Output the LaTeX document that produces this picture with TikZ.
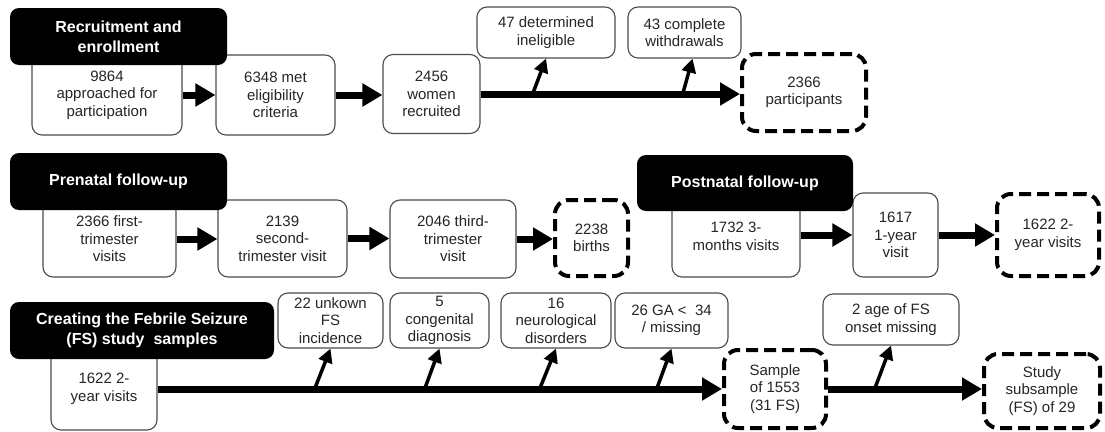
\documentclass[tikz,border=0pt]{standalone}
\usepackage{fontspec}
\setmainfont{Liberation Sans}
\usetikzlibrary{arrows.meta}
\tikzset{
  box/.style={draw=black!70, line width=1.1pt, rounded corners=10pt, fill=white, align=center,
    inner sep=0pt, text=black!85, font=\fontsize{15}{17.5}\selectfont},
  dbox/.style={box, draw=black, line width=4pt, dash pattern=on 12pt off 6pt, rounded corners=14pt},
  hdr/.style={fill=black, rounded corners=9pt, align=center, inner sep=0pt, text=white,
    font=\fontsize{16}{20}\selectfont\bfseries},
  bigarrow/.style={line width=7pt, -{Triangle[length=20pt,width=22pt]}},
  smallarrow/.style={line width=3.5pt, -{Triangle[length=14pt,width=14pt]}},
}
\begin{document}
\begin{tikzpicture}[x=1pt,y=-1pt]
\useasboundingbox (0,0) rectangle (1105,431);
% ---------- Row 1
\node[box, minimum width=150pt, minimum height=80pt] (b11) at (107,95) {9864\\approached for\\participation};
\node[box, minimum width=119pt, minimum height=80pt] (b12) at (275.5,95) {6348 met\\eligibility\\criteria};
\node[box, minimum width=97pt, minimum height=79pt] (b13) at (431.5,94) {2456\\women\\recruited};
\node[box, minimum width=138pt, minimum height=51pt] (e11) at (546,32.5) {47 determined\\ineligible};
\node[box, minimum width=113pt, minimum height=51pt] (e12) at (684.5,32.5) {43 complete\\withdrawals};
\node[dbox, minimum width=124pt, minimum height=77pt] (d1) at (804,92.5) {2366\\participants};
\node[hdr, minimum width=217pt, minimum height=57pt] (h1) at (118.5,36.5) {Recruitment and\\enrollment};
\draw[bigarrow] (b11.east) -- (b11.east -| b12.west);
\draw[bigarrow] (b12.east) -- (b12.east -| b13.west);
\coordinate (s11) at (533,93);
\coordinate (s12) at (683,93);
\draw[smallarrow] (s11) -- (e11.south);
\draw[smallarrow] (s12) -- ([xshift=8pt]e12.south);
\draw[bigarrow] (b13.east) -- (b13.east -| d1.west);
% ---------- Row 2
\node[box, minimum width=133pt, minimum height=76pt] (b21) at (109.5,239) {2366 first-\\trimester\\visits};
\node[box, minimum width=129pt, minimum height=77pt] (b22) at (282.5,238.5) {2139\\second-\\trimester visit};
\node[box, minimum width=126pt, minimum height=78pt] (b23) at (453,239) {2046 third-\\trimester\\visit};
\node[dbox, minimum width=73pt, minimum height=76pt] (d2) at (591.5,238) {2238\\births};
\node[hdr, minimum width=217pt, minimum height=57pt] (h2) at (118.5,181.5) {Prenatal follow-up};
\draw[bigarrow] (b21.east) -- (b21.east -| b22.west);
\draw[bigarrow] (b22.east) -- (b22.east -| b23.west);
\draw[bigarrow] (b23.east) -- (b23.east -| d2.west);
\node[box, minimum width=128pt, minimum height=81pt] (b31) at (736,236.5) {1732 3-\\months visits};
\node[box, minimum width=85pt, minimum height=84pt] (b32) at (895.5,235) {1617\\1-year\\visit};
\node[dbox, minimum width=102pt, minimum height=82pt] (d3) at (1048,235) {1622 2-\\year visits};
\node[hdr, minimum width=216pt, minimum height=56pt] (h3) at (745,183) {Postnatal follow-up};
\draw[bigarrow] (b31.east |- b32.west) -- (b32.west);
\draw[bigarrow] (b32.east) -- (b32.east -| d3.west);
% ---------- Row 3
\node[box, minimum width=106pt, minimum height=82pt] (b41) at (104,389) {1622 2-\\year visits};
\node[box, minimum width=105pt, minimum height=55pt] (e41) at (330.5,320.5) {22 unkown\\FS\\incidence};
\node[box, minimum width=99pt, minimum height=55pt] (e42) at (439.5,320.5) {5\\congenital\\diagnosis};
\node[box, minimum width=110pt, minimum height=55pt] (e43) at (556,320.5) {16\\neurological\\disorders};
\node[box, minimum width=113pt, minimum height=55pt] (e44) at (671.5,320.5) {26 GA <\ \ 34\\/ missing};
\node[dbox, minimum width=102pt, minimum height=78pt] (d41) at (775,389) {Sample\\of 1553\\(31 FS)};
\node[box, minimum width=136pt, minimum height=51pt] (e45) at (891,319.5) {2 age of FS\\onset missing};
\node[dbox, minimum width=116pt, minimum height=74pt] (d42) at (1042,391) {Study\\subsample\\(FS) of 29};
\node[hdr, minimum width=264pt, minimum height=57pt] (h4) at (142,330.5) {Creating the Febrile Seizure\\(FS) study\ \ samples};
\coordinate (s41) at (315,388);
\coordinate (s42) at (425,388);
\coordinate (s43) at (540,388);
\coordinate (s44) at (657,388);
\coordinate (s45) at (875,388);
\draw[smallarrow] (s41) -- (e41.south);
\draw[smallarrow] (s42) -- (e42.south);
\draw[smallarrow] (s43) -- (e43.south);
\draw[smallarrow] (s44) -- (e44.south);
\draw[smallarrow] (s45) -- (e45.south);
\draw[bigarrow] (b41.east) -- (b41.east -| d41.west);
\draw[bigarrow] (d41.east) -- (d41.east -| d42.west);
\end{tikzpicture}
\end{document}
